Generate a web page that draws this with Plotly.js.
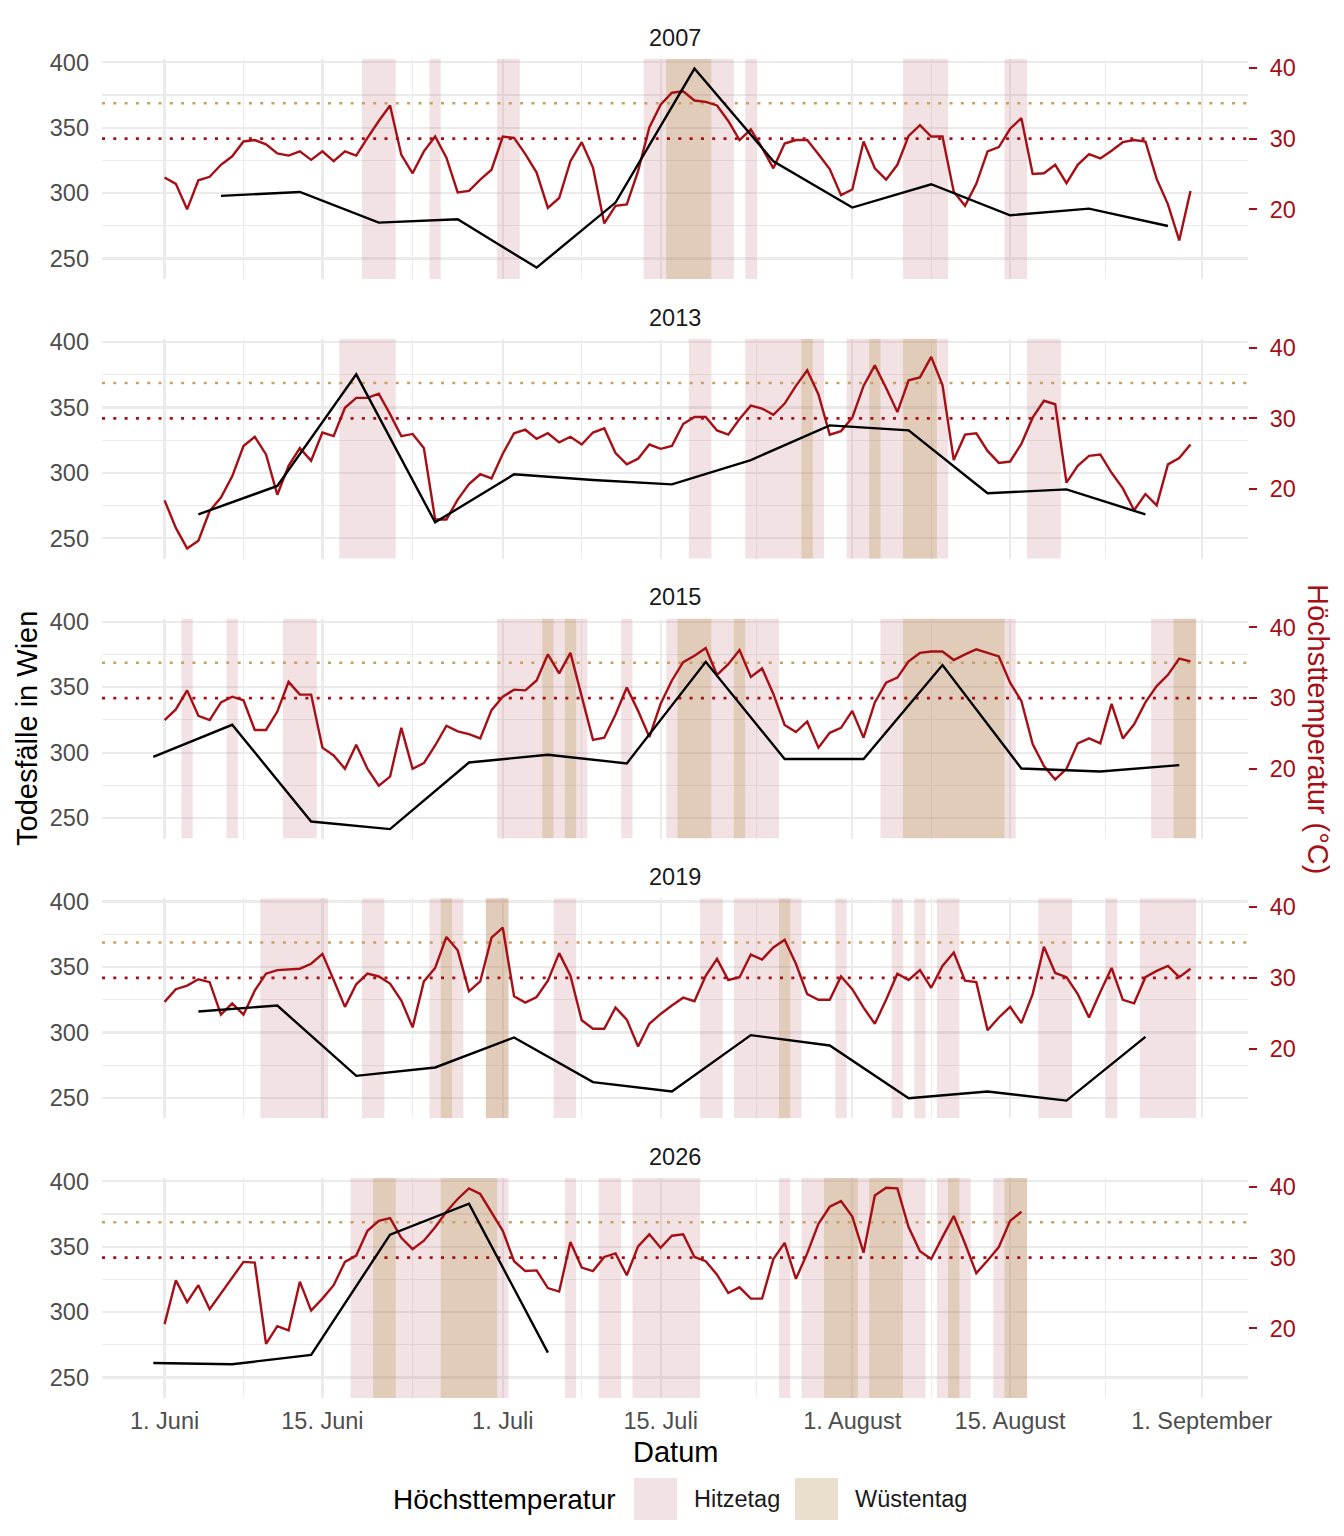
<!DOCTYPE html>
<html>
<head>
<meta charset="utf-8">
<script src="https://cdn.plot.ly/plotly-3.0.1.min.js"></script>
<style>body { margin: 0; background: #fff; }</style>
</head>
<body>
<div id="chart" style="width:1344px;height:1536px"></div>
<script>
// Hoechsttemperatur (Tageswerte ab 1. Juni) und woechentliche Todesfaelle in Wien

const years = ['2007', '2013', '2015', '2019', '2026'];

const temp2007 = [
  24.5, 23.6, 20.0, 24.1, 24.6, 26.3, 27.5, 29.6, 29.8, 29.2,
  27.9, 27.6, 28.2, 27.0, 28.2, 26.8, 28.2, 27.6, 30.1, 32.5,
  34.7, 27.7, 25.1, 28.2, 30.3, 27.3, 22.4, 22.6, 24.2, 25.6,
  30.3, 30.1, 27.8, 25.2, 20.2, 21.6, 26.8, 29.5, 25.9, 18.0,
  20.5, 20.7, 25.4, 31.6, 34.8, 36.5, 36.7, 35.4, 35.2, 34.7,
  32.5, 29.8, 31.3, 28.7, 25.8, 29.3, 29.8, 29.8, 27.8, 25.7,
  22.0, 22.8, 29.6, 25.8, 24.2, 26.3, 30.4, 31.9, 30.3, 30.3,
  22.5, 20.5, 23.6, 28.2, 28.8, 31.4, 32.9, 25.0, 25.1, 26.3,
  23.7, 26.3, 27.8, 27.2, 28.3, 29.5, 29.8, 29.6, 24.3, 20.7,
  15.6, 22.6
];
const temp2013 = [
  18.4, 14.5, 11.6, 12.7, 16.9, 18.8, 21.8, 26.1, 27.4, 24.9,
  19.2, 23.3, 25.8, 24.0, 28.0, 27.5, 31.5, 32.9, 32.9, 33.5,
  30.6, 27.5, 27.8, 25.8, 15.7, 15.7, 18.5, 20.7, 22.1, 21.5,
  25.0, 27.9, 28.4, 27.1, 27.9, 26.6, 27.4, 26.3, 28.0, 28.6,
  25.1, 23.5, 24.3, 26.3, 25.7, 26.1, 29.2, 30.2, 30.2, 28.3,
  27.7, 29.9, 31.8, 31.4, 30.5, 32.1, 34.6, 36.8, 33.4, 27.7,
  28.2, 30.1, 34.6, 37.5, 34.3, 30.9, 35.4, 35.8, 38.7, 34.7,
  24.1, 27.7, 27.9, 25.4, 23.7, 23.9, 26.4, 30.1, 32.5, 32.0,
  20.9, 23.3, 24.7, 24.9, 22.3, 20.1, 17.0, 19.3, 17.7, 23.5,
  24.4, 26.3
];
const temp2015 = [
  26.9, 28.4, 31.1, 27.5, 26.9, 29.4, 30.2, 29.7, 25.5, 25.5,
  28.1, 32.3, 30.5, 30.5, 23.0, 21.9, 20.0, 23.4, 20.0, 17.6,
  18.9, 25.8, 20.0, 20.8, 23.3, 26.1, 25.3, 24.9, 24.3, 28.3,
  30.2, 31.2, 31.1, 32.5, 36.2, 33.5, 36.4, 30.1, 24.1, 24.4,
  27.7, 31.5, 28.2, 24.5, 29.2, 32.5, 35.1, 36.0, 37.1, 33.3,
  34.8, 36.8, 33.0, 34.2, 30.6, 26.2, 25.2, 26.7, 23.0, 25.1,
  25.8, 28.2, 24.4, 29.4, 32.2, 32.9, 35.2, 36.4, 36.6, 36.6,
  35.4, 36.2, 36.9, 36.4, 35.9, 32.2, 29.6, 23.5, 20.4, 18.5,
  20.0, 23.6, 24.3, 23.6, 29.2, 24.3, 26.3, 29.4, 31.7, 33.3,
  35.6, 35.2
];
const temp2019 = [
  26.6, 28.4, 28.9, 29.8, 29.4, 24.8, 26.4, 24.8, 28.2, 30.6,
  31.1, 31.2, 31.3, 32.0, 33.4, 29.7, 25.9, 29.1, 30.6, 30.2,
  29.2, 26.8, 23.0, 29.5, 31.4, 35.8, 33.9, 28.1, 29.5, 35.7,
  37.1, 27.4, 26.5, 27.3, 29.6, 33.5, 30.3, 24.0, 22.8, 22.8,
  25.8, 24.1, 20.3, 23.5, 24.9, 26.1, 27.2, 26.7, 30.3, 32.7,
  29.7, 30.1, 33.3, 32.6, 34.3, 35.4, 32.0, 27.7, 26.9, 26.9,
  30.2, 28.4, 25.8, 23.5, 26.9, 30.6, 29.7, 31.1, 28.6, 31.7,
  33.6, 29.6, 29.4, 22.6, 24.4, 25.9, 23.6, 27.7, 34.4, 30.7,
  30.1, 27.7, 24.4, 28.0, 31.4, 26.9, 26.4, 30.1, 31.0, 31.7,
  30.1, 31.3
];
const temp2026 = [
  20.6, 26.8, 23.7, 26.1, 22.7, 24.9, 27.1, 29.4, 29.3, 17.8,
  20.3, 19.7, 26.6, 22.5, 24.2, 26.1, 29.4, 30.3, 33.8, 35.2,
  35.6, 32.8, 31.2, 32.4, 34.3, 36.5, 38.3, 39.8, 39.0, 36.3,
  33.8, 29.5, 28.1, 28.2, 25.7, 25.2, 32.2, 28.6, 28.1, 30.1,
  30.6, 27.5, 31.6, 33.3, 31.4, 33.1, 33.3, 30.1, 29.5, 27.6,
  25.0, 25.8, 24.2, 24.2, 29.8, 32.1, 27.0, 30.6, 34.8, 37.2,
  38.0, 35.8, 30.7, 38.8, 39.9, 39.8, 34.3, 30.9, 29.8, 32.9,
  35.9, 32.0, 27.8, 29.6, 31.5, 35.2, 36.5
];

const weeks2007 = ['06-06', '06-13', '06-20', '06-27', '07-04', '07-11', '07-18', '07-25', '08-01', '08-08', '08-15', '08-22', '08-29'];
const deaths2007 = [297.9, 300.9, 277.5, 280.0, 243.1, 292.8, 395.2, 324.4, 289.0, 306.8, 283.1, 288.2, 274.9];
const weeks2013 = ['06-04', '06-11', '06-18', '06-25', '07-02', '07-09', '07-16', '07-23', '07-30', '08-06', '08-13', '08-20', '08-27'];
const deaths2013 = [268.3, 290.0, 375.3, 262.2, 298.9, 294.6, 291.2, 309.8, 336.3, 332.5, 284.4, 287.4, 268.3];
const weeks2015 = ['05-31', '06-07', '06-14', '06-21', '06-28', '07-05', '07-12', '07-19', '07-26', '08-02', '08-09', '08-16', '08-23', '08-30'];
const deaths2015 = [296.8, 321.3, 247.4, 241.6, 292.5, 298.4, 291.8, 369.4, 295.1, 295.1, 366.9, 287.9, 285.6, 290.5];
const weeks2019 = ['06-04', '06-11', '06-18', '06-25', '07-02', '07-09', '07-16', '07-23', '07-30', '08-06', '08-13', '08-20', '08-27'];
const deaths2019 = [316.0, 320.5, 266.8, 273.2, 296.1, 262.0, 254.8, 297.9, 290.0, 249.7, 254.8, 247.9, 296.6];
const weeks2026 = ['05-31', '06-07', '06-14', '06-21', '06-28', '07-05'];
const deaths2026 = [261.2, 260.2, 267.3, 359.2, 382.9, 269.1];

const hitzeLimit = 30;
const wuesteLimit = 35;

const tickDates = ['06-01', '06-15', '07-01', '07-15', '08-01', '08-15', '09-01'];
const tickLabels = ['1. Juni', '15. Juni', '1. Juli', '15. Juli', '1. August', '15. August', '1. September'];
const minorDates = ['06-08', '06-23', '07-08', '07-23 12:00', '08-08', '08-23 12:00'];

const panels = [
  { year: years[0], temp: temp2007, weeks: weeks2007, deaths: deaths2007 },
  { year: years[1], temp: temp2013, weeks: weeks2013, deaths: deaths2013 },
  { year: years[2], temp: temp2015, weeks: weeks2015, deaths: deaths2015 },
  { year: years[3], temp: temp2019, weeks: weeks2019, deaths: deaths2019 },
  { year: years[4], temp: temp2026, weeks: weeks2026, deaths: deaths2026 },
];

// all years are laid on one common season axis
const refYear = 2000;
const DAY = 86400000;
const june1 = Date.UTC(refYear, 5, 1);
const fmt = (ms) => new Date(ms).toISOString().slice(0, 16).replace('T', ' ');
const onRef = (md) => `${refYear}-${md}`;

const xRange = [fmt(june1 - 5.55 * DAY), fmt(june1 + 96.1 * DAY)];
const tempRange = [10.14, 41.27];
const deathRange = [234.4, 402.5];

const RED = '#a50f15';
const TAN = '#c9a063';
const HITZE_FILL = 'rgba(192,112,122,0.2)';
const WUESTE_FILL = 'rgba(185,148,85,0.3)';
const GRID = '#ebebeb';
const FONT = '"Liberation Sans", Arial, Helvetica, sans-serif';

// figure geometry in pixels
const W = 1344, H = 1536;
const M = { l: 102, r: 96, t: 59, b: 138 };
const plotH = H - M.t - M.b;
const plotW = W - M.l - M.r;
const panelH = 220;
const panelStep = 279.75;
const px2x = (px) => (px - M.l) / plotW;
const py2y = (py) => 1 - (py - M.t) / plotH;

// consecutive days above a limit -> [firstIdx, lastIdx]
function runs(temp, limit) {
  const out = [];
  let start = null;
  for (let i = 0; i <= temp.length; i++) {
    const hot = i < temp.length && temp[i] >= limit;
    if (hot && start === null) start = i;
    if (!hot && start !== null) {
      out.push([start, i - 1]);
      start = null;
    }
  }
  return out;
}

const data = [];
const shapes = [];
const annotations = [];
const layout = {
  width: W,
  height: H,
  margin: M,
  paper_bgcolor: '#fff',
  plot_bgcolor: 'rgba(0,0,0,0)',
  showlegend: false,
  font: { family: FONT, size: 23.5, color: '#4d4d4d' },
  hovermode: false,
};

panels.forEach((p, k) => {
  const n = k === 0 ? '' : String(k + 1);
  const tAx = k === 0 ? '' : String(2 * k + 1); // temperature axis (right, main)
  const dAx = String(2 * k + 2); // deaths axis (left, overlay)
  const top = M.t + panelStep * k;
  const dom = [py2y(top + panelH), py2y(top)];

  layout['xaxis' + n] = {
    type: 'date',
    domain: [0, 1],
    anchor: 'y' + tAx,
    range: xRange,
    tickmode: 'array',
    tickvals: tickDates.map(onRef),
    ticktext: tickLabels,
    showticklabels: k === panels.length - 1,
    ticks: '',
    ticklabelstandoff: 6,
    tickfont: { size: 23.5, color: '#4d4d4d' },
    showgrid: true,
    gridcolor: GRID,
    gridwidth: 2.2,
    minor: { tickmode: 'array', tickvals: minorDates.map(onRef), showgrid: true, gridcolor: GRID, gridwidth: 1.1 },
    zeroline: false,
    showline: false,
  };
  layout['yaxis' + tAx] = {
    domain: dom,
    anchor: 'x' + n,
    side: 'right',
    range: tempRange,
    tickmode: 'array',
    tickvals: [20, 30, 40],
    ticks: 'outside',
    ticklen: 8,
    tickwidth: 2,
    tickcolor: RED,
    ticklabelstandoff: 8,
    tickfont: { size: 23.5, color: RED },
    showgrid: false,
    zeroline: false,
    showline: false,
  };
  layout['yaxis' + dAx] = {
    anchor: 'x' + n,
    overlaying: 'y' + tAx,
    side: 'left',
    range: deathRange,
    tickmode: 'array',
    tickvals: [250, 300, 350, 400],
    ticks: '',
    ticklabelstandoff: 12,
    tickfont: { size: 23.5, color: '#4d4d4d' },
    showgrid: true,
    gridcolor: GRID,
    gridwidth: 2.2,
    minor: { tickmode: 'array', tickvals: [275, 325, 375], showgrid: true, gridcolor: GRID, gridwidth: 1.1 },
    zeroline: false,
    showline: false,
  };

  const days = p.temp.map((_, i) => fmt(june1 + i * DAY));

  // Hitzetag / Wuestentag shading, one band per run of days, drawn over the grid
  [[hitzeLimit, HITZE_FILL], [wuesteLimit, WUESTE_FILL]].forEach(([limit, fill]) => {
    runs(p.temp, limit).forEach(([a, b]) => {
      shapes.push({
        type: 'rect',
        xref: 'x' + n,
        yref: 'y' + tAx,
        x0: fmt(june1 + (a - 0.5) * DAY),
        x1: fmt(june1 + (b + 0.5) * DAY),
        y0: tempRange[0],
        y1: tempRange[1],
        fillcolor: fill,
        line: { width: 0 },
        layer: 'between',
      });
    });
  });

  // threshold lines
  [[wuesteLimit, TAN], [hitzeLimit, RED]].forEach(([limit, color]) => {
    shapes.push({
      type: 'line',
      xref: 'x' + n,
      yref: 'y' + tAx,
      x0: xRange[0],
      x1: xRange[1],
      y0: limit,
      y1: limit,
      line: { color: color, width: 2.6, dash: '3px,8.3px' },
      layer: 'between',
    });
  });

  data.push({
    type: 'scatter',
    mode: 'lines',
    x: days,
    y: p.temp,
    xaxis: 'x' + n,
    yaxis: 'y' + tAx,
    line: { color: RED, width: 2.4 },
  });
  data.push({
    type: 'scatter',
    mode: 'lines',
    x: p.weeks.map(onRef),
    y: p.deaths,
    xaxis: 'x' + n,
    yaxis: 'y' + dAx,
    line: { color: '#000', width: 2.4 },
  });

  annotations.push({
    text: p.year,
    xref: 'paper',
    yref: 'paper',
    x: 0.5,
    y: dom[1],
    yanchor: 'middle',
    yshift: 21,
    showarrow: false,
    font: { size: 23.5, color: '#1a1a1a' },
  });
});

// axis titles
annotations.push({
  text: 'Datum',
  xref: 'paper', yref: 'paper',
  x: 0.5, y: py2y(1452),
  yanchor: 'middle',
  showarrow: false,
  font: { size: 29, color: '#000' },
});
annotations.push({
  text: 'Todesfälle in Wien',
  xref: 'paper', yref: 'paper',
  x: px2x(27), y: py2y(729),
  xanchor: 'center', yanchor: 'middle',
  textangle: -90,
  showarrow: false,
  font: { size: 29, color: '#000' },
});
annotations.push({
  text: 'Höchsttemperatur (°C)',
  xref: 'paper', yref: 'paper',
  x: px2x(1318), y: py2y(729),
  xanchor: 'center', yanchor: 'middle',
  textangle: 90,
  showarrow: false,
  font: { size: 29, color: RED },
});

// legend
const legendY = 1499;
annotations.push({
  text: 'Höchsttemperatur',
  xref: 'paper', yref: 'paper',
  x: px2x(618), y: py2y(legendY),
  xanchor: 'right', yanchor: 'middle',
  showarrow: false,
  font: { size: 28, color: '#000' },
});
[[634, HITZE_FILL, 'Hitzetag'], [795, WUESTE_FILL, 'Wüstentag']].forEach(([left, fill, label]) => {
  shapes.push({
    type: 'rect',
    xref: 'paper', yref: 'paper',
    x0: px2x(left), x1: px2x(left + 43),
    y0: py2y(legendY + 21), y1: py2y(legendY - 21),
    fillcolor: fill,
    line: { width: 0 },
  });
  annotations.push({
    text: label,
    xref: 'paper', yref: 'paper',
    x: px2x(left + 58), y: py2y(legendY),
    xanchor: 'left', yanchor: 'middle',
    showarrow: false,
    font: { size: 23.5, color: '#1a1a1a' },
  });
});

layout.shapes = shapes;
layout.annotations = annotations;

Plotly.newPlot('chart', data, layout, { staticPlot: true, displayModeBar: false });
</script>
</body>
</html>
